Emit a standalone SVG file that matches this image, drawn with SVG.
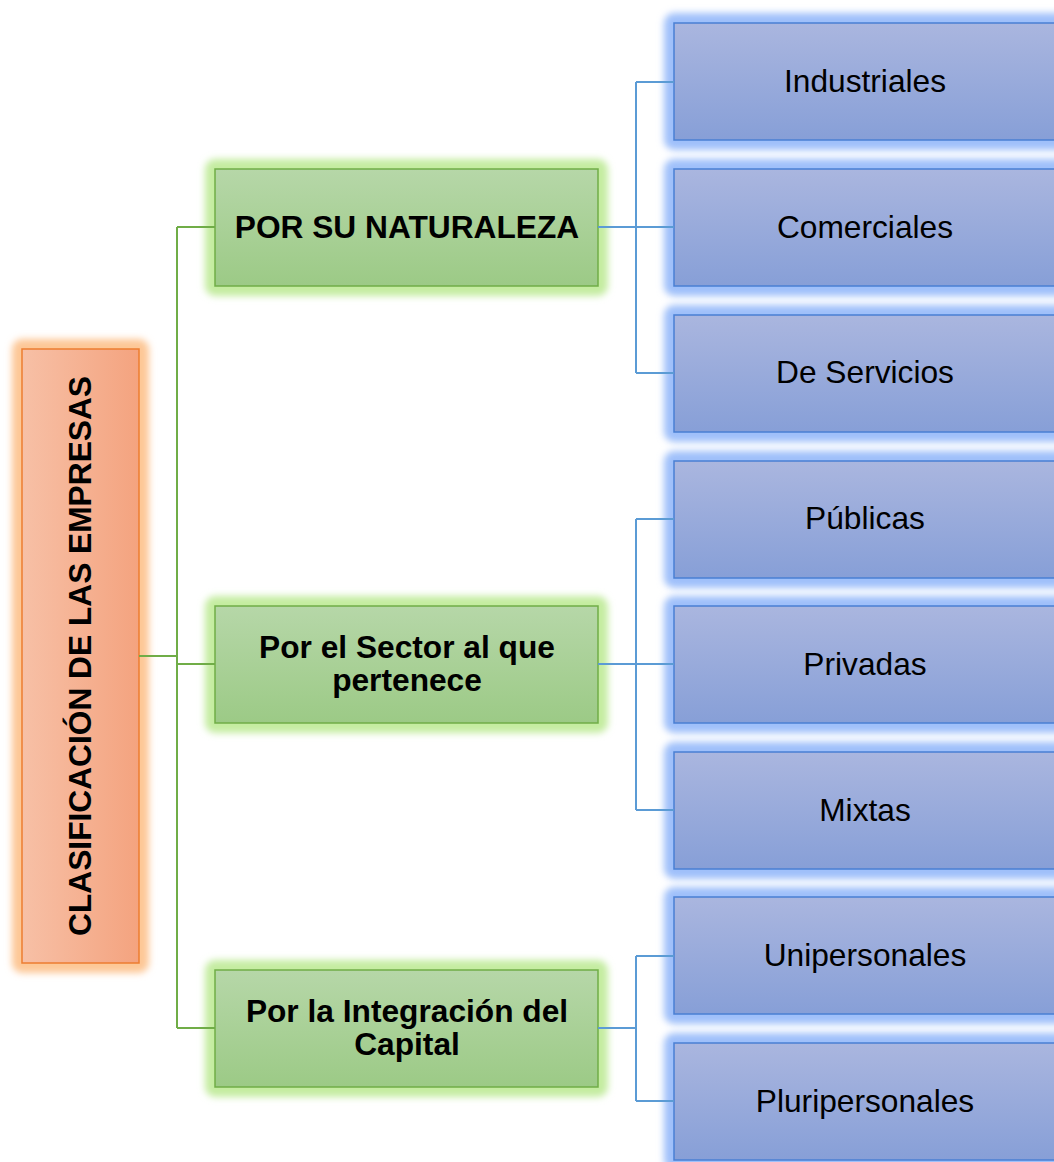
<svg xmlns="http://www.w3.org/2000/svg" width="1054" height="1162" viewBox="0 0 1054 1162">
<defs>
<linearGradient id="gRoot" x1="0" y1="0" x2="1" y2="0"><stop offset="0" stop-color="#F7C0A6"/><stop offset="1" stop-color="#F4A37F"/></linearGradient>
<linearGradient id="gGreen" x1="0" y1="0" x2="0" y2="1"><stop offset="0" stop-color="#B6D7A8"/><stop offset="1" stop-color="#9CCA86"/></linearGradient>
<linearGradient id="gBlue" x1="0" y1="0" x2="0" y2="1"><stop offset="0" stop-color="#AAB6DF"/><stop offset="1" stop-color="#879FD7"/></linearGradient>
<filter id="blur" x="-20%" y="-20%" width="140%" height="140%"><feGaussianBlur stdDeviation="3.5"/></filter>
</defs>
<style>
.glowO{fill:#FDC796;filter:url(#blur)}
.glowG{fill:#C4ECA0;filter:url(#blur)}
.glowB{fill:#9FC0FA;filter:url(#blur)}
.root{fill:url(#gRoot);stroke:#ED7D31;stroke-width:1.5}
.l2{fill:url(#gGreen);stroke:#70AD47;stroke-width:1.5}
.l3{fill:url(#gBlue);stroke:#4A7FD3;stroke-width:1.5}
text{font-family:"Liberation Sans",Arial,sans-serif;font-size:31.7px;fill:#000;text-anchor:middle}
.b{font-weight:bold}
.cg{fill:none;stroke:#70AD47;stroke-width:2}
.cb{fill:none;stroke:#5B9BD5;stroke-width:2}
</style>
<g id="root">
<rect class="glowO" x="12" y="339" width="137" height="634" rx="10"/>
<rect class="root" x="22" y="349" width="117" height="614"/>
<text class="b" transform="translate(91,656) rotate(-90)">CLASIFICACIÓN DE LAS EMPRESAS</text>
</g>
<g id="naturaleza">
<rect class="glowG" x="205" y="159" width="403" height="137" rx="10"/>
<rect class="l2" x="215" y="169" width="383" height="117"/>
<text class="b" x="407" y="238">POR SU NATURALEZA</text>
</g>
<g id="sector">
<rect class="glowG" x="205" y="596" width="403" height="137" rx="10"/>
<rect class="l2" x="215" y="606" width="383" height="117"/>
<text class="b" x="407" y="658">Por el Sector al que</text>
<text class="b" x="407" y="691">pertenece</text>
</g>
<g id="integracion">
<rect class="glowG" x="205" y="960" width="403" height="137" rx="10"/>
<rect class="l2" x="215" y="970" width="383" height="117"/>
<text class="b" x="407" y="1022">Por la Integración del</text>
<text class="b" x="407" y="1055">Capital</text>
</g>
<g id="industriales">
<rect class="glowB" x="664" y="13" width="420" height="137" rx="10"/>
<rect class="l3" x="674" y="23" width="400" height="117"/>
<text x="865" y="92">Industriales</text>
</g>
<g id="comerciales">
<rect class="glowB" x="664" y="159" width="420" height="137" rx="10"/>
<rect class="l3" x="674" y="169" width="400" height="117"/>
<text x="865" y="238">Comerciales</text>
</g>
<g id="servicios">
<rect class="glowB" x="664" y="305" width="420" height="137" rx="10"/>
<rect class="l3" x="674" y="315" width="400" height="117"/>
<text x="865" y="383">De Servicios</text>
</g>
<g id="publicas">
<rect class="glowB" x="664" y="451" width="420" height="137" rx="10"/>
<rect class="l3" x="674" y="461" width="400" height="117"/>
<text x="865" y="529">Públicas</text>
</g>
<g id="privadas">
<rect class="glowB" x="664" y="596" width="420" height="137" rx="10"/>
<rect class="l3" x="674" y="606" width="400" height="117"/>
<text x="865" y="675">Privadas</text>
</g>
<g id="mixtas">
<rect class="glowB" x="664" y="742" width="420" height="137" rx="10"/>
<rect class="l3" x="674" y="752" width="400" height="117"/>
<text x="865" y="821">Mixtas</text>
</g>
<g id="unipersonales">
<rect class="glowB" x="664" y="887" width="420" height="137" rx="10"/>
<rect class="l3" x="674" y="897" width="400" height="117"/>
<text x="865" y="966">Unipersonales</text>
</g>
<g id="pluripersonales">
<rect class="glowB" x="664" y="1033" width="420" height="137" rx="10"/>
<rect class="l3" x="674" y="1043" width="400" height="117"/>
<text x="865" y="1112">Pluripersonales</text>
</g>
<g id="connectors">
<path class="cg" d="M139,656 H177 M177,227 V1028 M177,227 H215 M177,664 H215 M177,1028 H215"/>
<path class="cb" d="M598,227 H674 M636,82 V373 M636,82 H674 M636,373 H674"/>
<path class="cb" d="M598,664 H674 M636,519 V810 M636,519 H674 M636,810 H674"/>
<path class="cb" d="M598,1028 H636 M636,956 V1101 M636,956 H674 M636,1101 H674"/>
</g>
</svg>
